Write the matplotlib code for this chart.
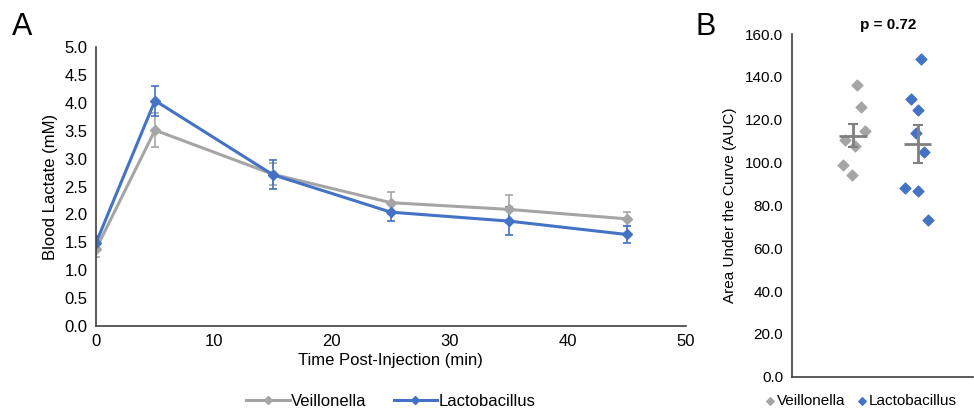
import matplotlib.pyplot as plt
from matplotlib.lines import Line2D
import numpy as np

plt.rcParams['font.family'] = ['Liberation Sans', 'DejaVu Sans']

GRAY = '#A5A5A5'
BLUE = '#4472C4'
AXC = '#404040'

# Panel A: blood lactate time course
time_min = [0, 5, 15, 25, 35, 45]
veil_mean = [1.38, 3.51, 2.72, 2.21, 2.09, 1.92]
veil_err = [0.15, 0.30, 0.20, 0.20, 0.25, 0.12]
lacto_mean = [1.49, 4.04, 2.71, 2.04, 1.88, 1.64]
lacto_err = [0.12, 0.27, 0.26, 0.15, 0.25, 0.16]

# Panel B: AUC per animal
veil_auc = [136.0, 125.7, 114.7, 110.5, 107.9, 98.8, 94.2]
veil_jitter = [0.07, 0.12, 0.18, -0.12, 0.03, -0.16, -0.015]
lacto_auc = [148.2, 129.6, 124.5, 113.6, 105.0, 88.2, 86.8, 73.2]
lacto_jitter = [0.05, -0.10, 0.01, -0.035, 0.10, -0.19, 0.01, 0.16]
veil_sem = 5.3
lacto_sem = 8.9
p_text = 'p = 0.72'

fig = plt.figure(figsize=(9.74, 4.15), dpi=100)

# ---- panel A
ax = fig.add_axes([0.0986, 0.2145, 0.6054, 0.6722])
ax.errorbar(time_min, veil_mean, yerr=veil_err, color=GRAY, marker='D', ms=5.5,
            lw=2.2, capsize=3, elinewidth=1.2, capthick=1.2)
ax.errorbar(time_min, lacto_mean, yerr=lacto_err, color=BLUE, marker='D', ms=5.5,
            lw=2.2, capsize=3, elinewidth=1.2, capthick=1.2)
ax.set_xlim(0, 50)
ax.set_ylim(0, 5)
ax.set_xticks(range(0, 51, 10))
ax.set_yticks(np.arange(0, 5.01, 0.5))
ax.set_yticklabels([f'{v:.1f}' for v in np.arange(0, 5.01, 0.5)])
for s in ['top', 'right']:
    ax.spines[s].set_visible(False)
for s in ['left', 'bottom']:
    ax.spines[s].set_color(AXC)
    ax.spines[s].set_linewidth(1.2)
ax.tick_params(length=0, labelsize=12, colors='black', pad=6)
ax.set_xlabel('Time Post-Injection (min)', fontsize=12, labelpad=3)
ax.set_ylabel('Blood Lactate (mM)', fontsize=12, labelpad=5)
handles = [Line2D([], [], color=GRAY, marker='D', ms=4.5, lw=2.2),
           Line2D([], [], color=BLUE, marker='D', ms=4.5, lw=2.2)]
ax.legend(handles, ['Veillonella', 'Lactobacillus'], loc='upper center',
          bbox_to_anchor=(0.5, -0.19), ncol=2, frameon=False, fontsize=12,
          handlelength=2.6, columnspacing=1.6, handletextpad=0.1)
fig.text(0.012, 0.915, 'A', fontsize=22)

# ---- panel B
bx = fig.add_axes([0.8128, 0.0923, 0.1862, 0.8257])
bx.scatter(1 + np.array(veil_jitter), veil_auc, marker='D', s=30, color=GRAY,
           label='Veillonella', zorder=3)
bx.scatter(2 + np.array(lacto_jitter), lacto_auc, marker='D', s=30, color=BLUE,
           label='Lactobacillus', zorder=3)
for xc, vals, sem in [(1, veil_auc, veil_sem), (2, lacto_auc, lacto_sem)]:
    m = np.mean(vals)
    bx.hlines(m, xc - 0.21, xc + 0.21, color='#808080', lw=2, zorder=4)
    bx.errorbar([xc], [m], yerr=[sem], color='#808080', lw=0, capsize=3.5,
                capthick=1.5, elinewidth=2, zorder=4)
bx.set_xlim(0.057, 2.85)
bx.set_ylim(0, 160)
bx.set_xticks([])
bx.set_yticks(np.arange(0, 161, 20))
bx.set_yticklabels([f'{v:.1f}' for v in np.arange(0, 161, 20)])
for s in ['top', 'right']:
    bx.spines[s].set_visible(False)
for s in ['left', 'bottom']:
    bx.spines[s].set_color(AXC)
    bx.spines[s].set_linewidth(1.2)
bx.tick_params(length=0, labelsize=11, colors='black', pad=6)
bx.set_ylabel('Area Under the Curve (AUC)', fontsize=11, labelpad=6)
bx.text(1.55, 161, p_text, ha='center', va='bottom', fontsize=11, fontweight='bold')
bx.legend(loc='upper center', bbox_to_anchor=(0.38, -0.01), ncol=2, frameon=False,
          fontsize=11, handlelength=0.8, columnspacing=0.7, handletextpad=0.05,
          markerscale=0.7)
fig.text(0.714, 0.915, 'B', fontsize=22)

fig.savefig('out.png', dpi=100)
